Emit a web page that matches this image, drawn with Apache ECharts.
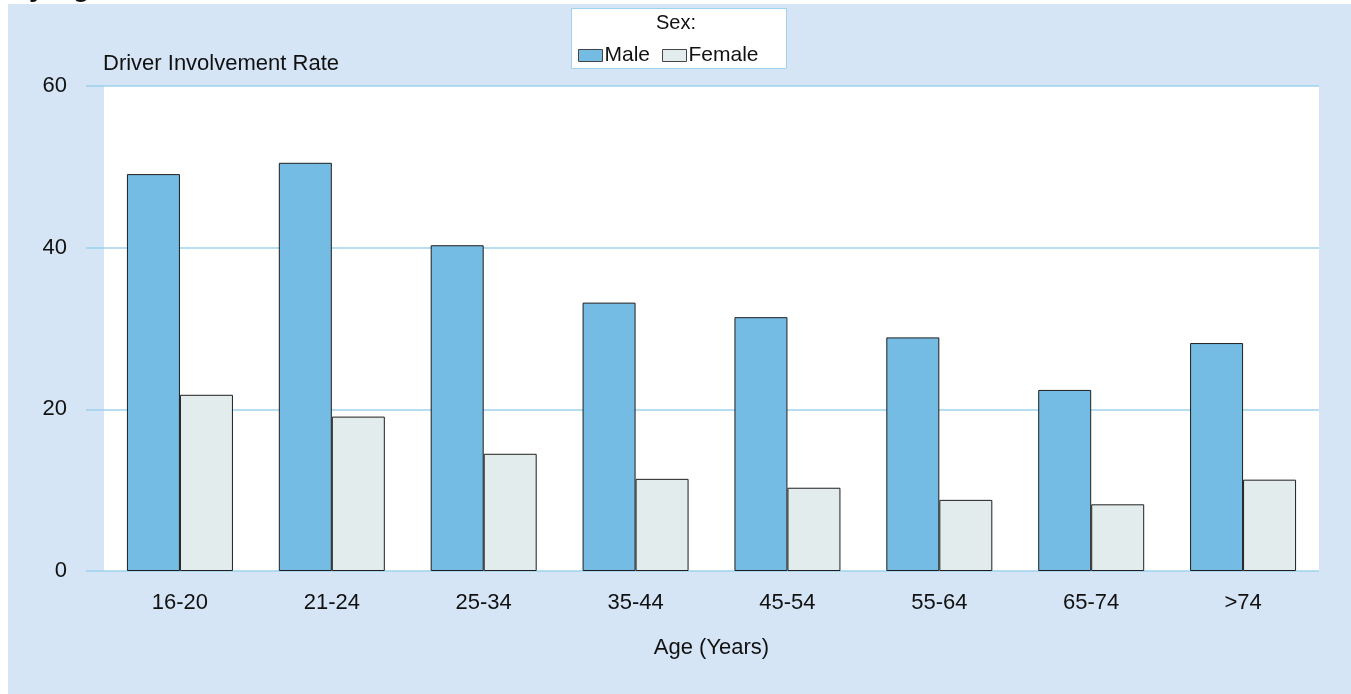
<!DOCTYPE html>
<html>
<head>
<meta charset="utf-8">
<script src="https://cdn.jsdelivr.net/npm/echarts@6/dist/echarts.min.js"></script>
<style>
  html, body { margin: 0; padding: 0; background: #ffffff; width: 1351px; height: 694px; overflow: hidden; }
  #panel { position: absolute; left: 8px; top: 4px; right: 0; bottom: 0; background: #d5e5f5; }
  #chart { position: absolute; left: 0; top: 0; width: 1351px; height: 694px; }
</style>
</head>
<body>
<div id="panel"></div>
<div id="chart"></div>
<script>
// Driver involvement rate by age group and sex
const ageGroups = ['16-20', '21-24', '25-34', '35-44', '45-54', '55-64', '65-74', '>74'];
const maleRates = [49.1, 50.5, 40.3, 33.2, 31.4, 28.9, 22.4, 28.2];
const femaleRates = [21.8, 19.1, 14.5, 11.4, 10.3, 8.8, 8.25, 11.3];
const seriesNames = ['Male', 'Female'];
const yTicks = { min: 0, max: 60, interval: 20 };

const FONT = '"Liberation Sans", Arial, sans-serif';
const GRID_BLUE = '#9fd2ec';
const MALE_FILL = '#74bce3';
const FEMALE_FILL = '#e3ecec';
const OUTLINE = '#1e1e1e';

const chart = echarts.init(document.getElementById('chart'), null, { renderer: 'canvas' });

chart.setOption({
  backgroundColor: 'transparent',
  animation: false,
  textStyle: { fontFamily: FONT, color: '#111' },
  grid: {
    left: 104, right: 32, top: 86, bottom: 123,
    show: true, backgroundColor: '#ffffff', borderWidth: 0
  },
  graphic: [
    {
      type: 'text', left: 12, top: -26, z: 10,
      style: { text: 'by Age', font: 'bold 28px ' + FONT, fill: '#111' }
    },
    {
      type: 'rect', z: 1,
      shape: { x: 571.5, y: 8.5, width: 215, height: 60 },
      style: { fill: '#ffffff', stroke: GRID_BLUE, lineWidth: 1 }
    },
    {
      type: 'text', z: 5, x: 676, y: 23,
      style: { text: 'Sex:', font: '20px ' + FONT, fill: '#111', align: 'center', verticalAlign: 'middle' }
    },
    {
      type: 'text', z: 5, x: 103, y: 64,
      style: { text: 'Driver Involvement Rate', font: '22px ' + FONT, fill: '#111', align: 'left', verticalAlign: 'middle' }
    }
  ],
  legend: {
    data: seriesNames,
    left: 578, top: 45, z: 6,
    padding: 0,
    itemWidth: 24, itemHeight: 12, itemGap: 12,
    icon: 'rect',
    itemStyle: { borderWidth: 1, borderColor: '#444' },
    textStyle: { fontSize: 21, fontFamily: FONT, color: '#111', padding: [0, 0, 0, -3] },
    selectedMode: false
  },
  xAxis: {
    type: 'category',
    data: ageGroups,
    name: 'Age (Years)',
    nameLocation: 'middle',
    nameGap: 66,
    nameTextStyle: { fontSize: 22, fontFamily: FONT, color: '#111' },
    axisLine: { show: false },
    axisTick: { show: false },
    axisLabel: { fontSize: 22, fontFamily: FONT, color: '#111', margin: 21 }
  },
  yAxis: {
    type: 'value',
    min: yTicks.min, max: yTicks.max, interval: yTicks.interval,
    axisLine: { show: false },
    axisTick: { show: true, length: 18, lineStyle: { color: GRID_BLUE, width: 1.6 } },
    axisLabel: { fontSize: 22, fontFamily: FONT, color: '#111', margin: 37 },
    splitLine: { show: true, lineStyle: { color: GRID_BLUE, width: 1.6 } }
  },
  series: [
    {
      name: seriesNames[0], type: 'bar', data: maleRates,
      barWidth: 53, barGap: '0%', z: 3,
      itemStyle: { color: MALE_FILL, borderColor: OUTLINE, borderWidth: 1 }
    },
    {
      name: seriesNames[1], type: 'bar', data: femaleRates,
      barWidth: 53, barGap: '0%', z: 3,
      itemStyle: { color: FEMALE_FILL, borderColor: OUTLINE, borderWidth: 1 }
    }
  ]
});
</script>
</body>
</html>
